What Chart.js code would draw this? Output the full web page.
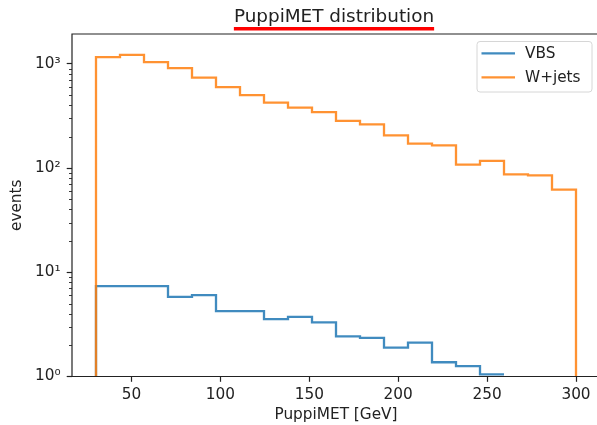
<!DOCTYPE html>
<html lang="en">
<head>
  <meta charset="UTF-8">
  <title>PuppiMET distribution</title>
  <script src="https://cdn.jsdelivr.net/npm/chart.js"></script>
  <style>
    body {
      margin: 0;
      background: #fff;
      overflow: hidden;
    }
    #wrap {
      width: 600px;
      height: 425px;
    }
  </style>
</head>
<body>
  <div id="wrap"><canvas id="metChart" width="600" height="425"></canvas></div>

  <script>
    // histogram bin edges [GeV]
    const binEdges = [30, 43.5, 57, 70.5, 84, 97.5, 111, 124.5, 138, 151.5, 165,
                      178.5, 192, 205.5, 219, 232.5, 246, 259.5, 273, 286.5, 300];
    // events per bin
    const vbsCounts = [7.36, 7.36, 7.36, 5.81, 6.04, 4.24, 4.24, 3.55, 3.74, 3.31,
                       2.43, 2.35, 1.89, 2.11, 1.37, 1.26, 1.05, 0, 0, 0];
    const wjetsCounts = [1156, 1219, 1036, 908, 735, 597, 500, 423, 379, 344,
                         283, 262, 206, 171, 165, 108, 117, 87, 85, 62];
    const seriesNames = ['VBS', 'W+jets'];
    const xTicks = [50, 100, 150, 200, 250, 300];
    const yTicks = [1, 10, 100, 1000];

    const FONT = 'DejaVu Sans';
    const INK = '#222';
    const SUP = ['\u2070', '\u00b9', '\u00b2', '\u00b3'];
    const Y_MIN = 1;
    const Y_MAX = 1930;

    // outline of a step histogram, closed down to the axis floor
    function stepOutline(counts) {
      const pts = [{ x: binEdges[0], y: Y_MIN }];
      counts.forEach((c, i) => {
        const y = c > 0 ? c : null;
        pts.push({ x: binEdges[i], y: y }, { x: binEdges[i + 1], y: y });
      });
      pts.push({ x: binEdges[binEdges.length - 1], y: Y_MIN });
      return pts;
    }

    // frame, minor log ticks, title and legend box (matplotlib look)
    const decor = {
      id: 'decor',
      afterDatasetsDraw(chart) {
        const { ctx, chartArea: a, scales } = chart;
        ctx.save();
        ctx.strokeStyle = INK;
        ctx.lineWidth = 1.2;
        // right spine sits just outside the cropped picture
        ctx.beginPath();
        ctx.moveTo(a.right + 2, a.top);
        ctx.lineTo(a.left, a.top);
        ctx.lineTo(a.left, a.bottom);
        ctx.lineTo(a.right + 2, a.bottom);
        ctx.stroke();

        ctx.lineWidth = 0.9;
        ctx.beginPath();
        for (let e = 0; e < 4; e++) {
          for (let m = 2; m < 10; m++) {
            const v = m * Math.pow(10, e);
            if (v > scales.y.max) continue;
            const py = Math.round(scales.y.getPixelForValue(v)) + 0.5;
            ctx.moveTo(a.left - 3, py);
            ctx.lineTo(a.left, py);
          }
        }
        ctx.stroke();
        ctx.restore();
      },
      afterDraw(chart) {
        const { ctx } = chart;
        ctx.save();

        // title + red underline
        ctx.font = '18.4px ' + FONT;
        ctx.fillStyle = INK;
        ctx.textAlign = 'center';
        ctx.textBaseline = 'alphabetic';
        const tx = 334;
        ctx.fillText('PuppiMET distribution', tx, 22);
        const tw = ctx.measureText('PuppiMET distribution').width;
        ctx.fillStyle = '#ff0000';
        ctx.fillRect(tx - tw / 2, 27, tw, 3.5);

        // legend
        const bx = 477, by = 41.5, bw = 115, bh = 50.5, r = 3;
        ctx.beginPath();
        ctx.moveTo(bx + r, by);
        ctx.arcTo(bx + bw, by, bx + bw, by + bh, r);
        ctx.arcTo(bx + bw, by + bh, bx, by + bh, r);
        ctx.arcTo(bx, by + bh, bx, by, r);
        ctx.arcTo(bx, by, bx + bw, by, r);
        ctx.closePath();
        ctx.fillStyle = 'rgba(255,255,255,0.8)';
        ctx.fill();
        ctx.strokeStyle = '#d6d6d6';
        ctx.lineWidth = 1;
        ctx.stroke();

        ctx.font = '15.3px ' + FONT;
        ctx.textAlign = 'left';
        ctx.textBaseline = 'middle';
        chart.data.datasets.forEach((ds, i) => {
          const ly = 53.3 + i * 24;
          ctx.strokeStyle = ds.borderColor;
          ctx.lineWidth = 2.3;
          ctx.beginPath();
          ctx.moveTo(481.5, ly);
          ctx.lineTo(515, ly);
          ctx.stroke();
          ctx.fillStyle = INK;
          ctx.fillText(ds.label, 525, ly + 1);
        });
        ctx.restore();
      }
    };

    new Chart(document.getElementById('metChart'), {
      type: 'line',
      data: {
        datasets: [{
          label: seriesNames[0],
          data: stepOutline(vbsCounts),
          borderColor: 'rgba(31,119,180,0.85)',
          borderWidth: 2.3,
          pointRadius: 0,
          tension: 0,
          fill: false,
          order: 1
        }, {
          label: seriesNames[1],
          data: stepOutline(wjetsCounts),
          borderColor: 'rgba(255,127,14,0.85)',
          borderWidth: 2.3,
          pointRadius: 0,
          tension: 0,
          fill: false,
          order: 0
        }]
      },
      options: {
        responsive: false,
        animation: false,
        devicePixelRatio: 1,
        layout: { padding: { top: 34, left: 0, right: 0, bottom: 0 } },
        plugins: {
          legend: { display: false },
          tooltip: { enabled: false }
        },
        scales: {
          x: {
            type: 'linear',
            min: 16.5,
            max: 313.5,
            afterBuildTicks: (s) => { s.ticks = xTicks.map(v => ({ value: v })); },
            afterFit: (s) => { s.height = 48.5; },
            border: { display: false },
            grid: { drawOnChartArea: false, drawTicks: true, tickLength: 5.3, tickWidth: 1.2, tickColor: INK },
            ticks: { padding: 4, color: INK, maxRotation: 0, font: { family: FONT, size: 15.3 } },
            title: {
              display: true,
              text: 'PuppiMET [GeV]',
              color: INK,
              font: { family: FONT, size: 15.3 },
              padding: { top: 0, bottom: 1 }
            }
          },
          y: {
            type: 'logarithmic',
            min: Y_MIN,
            max: Y_MAX,
            afterBuildTicks: (s) => { s.ticks = yTicks.map(v => ({ value: v })); },
            afterFit: (s) => { s.width = 72; },
            border: { display: false },
            grid: { drawOnChartArea: false, drawTicks: true, tickLength: 5.3, tickWidth: 1.2, tickColor: INK },
            ticks: {
              padding: 6,
              color: INK,
              font: { family: FONT, size: 15.3 },
              callback: (v) => '10' + SUP[Math.round(Math.log10(v))]
            },
            title: {
              display: true,
              text: 'events',
              color: INK,
              font: { family: FONT, size: 15.3 },
              padding: { top: 8, bottom: 0 }
            }
          }
        }
      },
      plugins: [decor]
    });
  </script>
</body>
</html>
